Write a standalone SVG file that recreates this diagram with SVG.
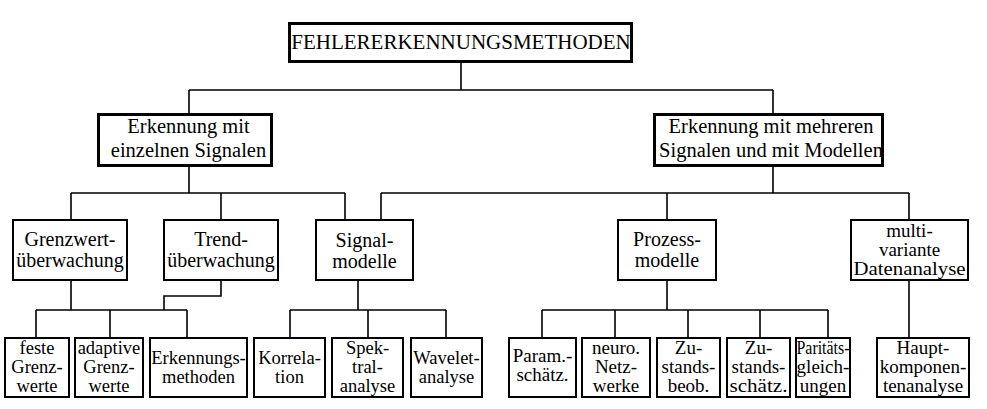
<svg xmlns="http://www.w3.org/2000/svg" width="987" height="409" viewBox="0 0 987 409">
<style>
rect{fill:#fff;stroke:#000}
.k{stroke-width:3}
.n{stroke-width:2}
text{font-family:"Liberation Serif","Times New Roman",serif;fill:#000;text-anchor:middle}
.t0{font-size:21px}
.t1{font-size:20.5px}
.t2{font-size:20px}
.t2s{font-size:19px}
.t3{font-size:18.5px}
.t4{font-size:19px}
#connectors path{fill:none;stroke:#000;stroke-width:1.6}
</style>
<rect x="0" y="0" width="987" height="409" style="fill:#fff;stroke:none"/>
<g id="connectors">
<path d="M461 63V90M189 90H773M189 90V113M773 90V113"/>
<path d="M189 167V193M71 193H345M71 193V219M221 193V219M345 193V219"/>
<path d="M773 167V193M381 193H909M381 193V219M667 193V219M909 193V219"/>
<path d="M71 281V310M221 281V296H164V310M36 310H187M36 310V337M110 310V337M187 310V337"/>
<path d="M358 281V310M290 310H446M290 310V337M368 310V337M446 310V337"/>
<path d="M667 281V310M542 310H828M542 310V337M615 310V337M688 310V337M760 310V337M828 310V337"/>
<path d="M909 281V337"/>
</g>
<g id="root"><rect class="k" x="289.5" y="23.5" width="342" height="38"/><text class="t0" x="461" y="49">FEHLERERKENNUNGSMETHODEN</text></g>
<g id="einzeln"><rect class="k" x="98.5" y="114.5" width="173" height="51"/><text class="t1" x="188.5" y="133">Erkennung mit</text><text class="t1" x="188.5" y="157">einzelnen Signalen</text></g>
<g id="mehrere"><rect class="k" x="654.5" y="114.5" width="228" height="51"/><text class="t1" x="771" y="133">Erkennung mit mehreren</text><text class="t1" x="771" y="157">Signalen und mit Modellen</text></g>
<g id="grenzwert"><rect class="n" x="13" y="220" width="114" height="60"/><text class="t2" x="70" y="246">Grenzwert-</text><text class="t2" x="70" y="267">überwachung</text></g>
<g id="trend"><rect class="n" x="164" y="220" width="114" height="60"/><text class="t2" x="221" y="246">Trend-</text><text class="t2" x="221" y="267">überwachung</text></g>
<g id="signalmodelle"><rect class="n" x="316" y="220" width="97" height="60"/><text class="t2" x="364.5" y="247">Signal-</text><text class="t2" x="364.5" y="268">modelle</text></g>
<g id="prozessmodelle"><rect class="n" x="618" y="220" width="98" height="60"/><text class="t2" x="667" y="246">Prozess-</text><text class="t2" x="667" y="267">modelle</text></g>
<g id="multivariante"><rect class="n" x="851" y="220" width="117" height="60"/><text class="t2s" x="909.5" y="237">multi-</text><text class="t2s" x="909.5" y="256">variante</text><text class="t2s" x="909.5" y="275" textLength="112" lengthAdjust="spacingAndGlyphs">Datenanalyse</text></g>
<g id="feste"><rect class="n" x="5" y="338" width="64" height="59"/><text class="t3" x="37" y="354">feste</text><text class="t3" x="37" y="373">Grenz-</text><text class="t3" x="37" y="392">werte</text></g>
<g id="adaptive"><rect class="n" x="75" y="338" width="68" height="59"/><text class="t3" x="109" y="354">adaptive</text><text class="t3" x="109" y="373">Grenz-</text><text class="t3" x="109" y="392">werte</text></g>
<g id="erkennungsmethoden"><rect class="n" x="150" y="338" width="97" height="59"/><text class="t3" x="198.5" y="364">Erkennungs-</text><text class="t3" x="198.5" y="383">methoden</text></g>
<g id="korrelation"><rect class="n" x="254" y="338" width="71" height="59"/><text class="t3" x="289.5" y="364">Korrela-</text><text class="t3" x="289.5" y="383">tion</text></g>
<g id="spektral"><rect class="n" x="332" y="338" width="71" height="59"/><text class="t3" x="367.5" y="354">Spek-</text><text class="t3" x="367.5" y="373">tral-</text><text class="t3" x="367.5" y="392">analyse</text></g>
<g id="wavelet"><rect class="n" x="411" y="338" width="71" height="59"/><text class="t3" x="446.5" y="364">Wavelet-</text><text class="t3" x="446.5" y="383">analyse</text></g>
<g id="param"><rect class="n" x="509" y="338" width="67" height="59"/><text class="t4" x="542.5" y="362">Param.-</text><text class="t4" x="542.5" y="381">schätz.</text></g>
<g id="neuro"><rect class="n" x="582" y="338" width="68" height="59"/><text class="t4" x="616" y="354">neuro.</text><text class="t4" x="616" y="373">Netz-</text><text class="t4" x="616" y="392">werke</text></g>
<g id="zustandsbeob"><rect class="n" x="657" y="338" width="63" height="59"/><text class="t4" x="688.5" y="354">Zu-</text><text class="t4" x="688.5" y="373">stands-</text><text class="t4" x="688.5" y="392">beob.</text></g>
<g id="zustandsschaetz"><rect class="n" x="727" y="338" width="63" height="59"/><text class="t4" x="758.5" y="354">Zu-</text><text class="t4" x="758.5" y="373">stands-</text><text class="t4" x="758.5" y="392" textLength="58" lengthAdjust="spacingAndGlyphs">schätz.</text></g>
<g id="paritaet"><rect class="n" x="796" y="338" width="54" height="59"/><text class="t4" x="823" y="354" textLength="53" lengthAdjust="spacingAndGlyphs">Paritäts-</text><text class="t4" x="823" y="373">gleich-</text><text class="t4" x="823" y="392">ungen</text></g>
<g id="haupt"><rect class="n" x="877" y="338" width="92" height="59"/><text class="t4" x="923" y="354">Haupt-</text><text class="t4" x="923" y="373">komponen-</text><text class="t4" x="923" y="392">tenanalyse</text></g>
</svg>
